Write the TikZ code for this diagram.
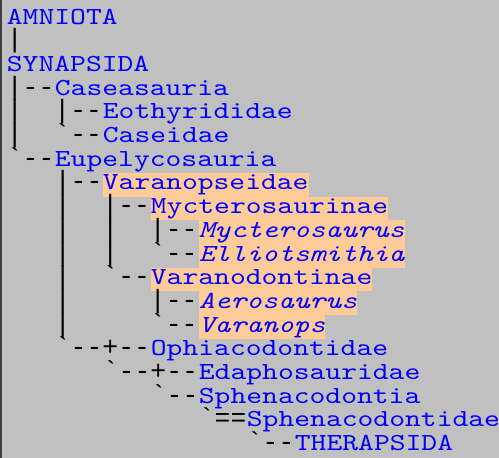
\documentclass[tikz,border=0pt]{standalone}
\usepackage{fontspec}
\setmonofont{Liberation Mono}
\newfontfamily\namefont{lmmono10-regular.otf}[ItalicFont=lmmono10-italic.otf, FakeStretch=1.23]
\definecolor{bggray}{RGB}{192,192,192}
\definecolor{edgegray}{RGB}{64,64,64}
\definecolor{taxblue}{RGB}{0,0,255}
\definecolor{hlorange}{RGB}{255,204,153}
\tikzset{
  linebox/.style={text height=17pt, text depth=6.7pt},
  pre/.style={linebox, font=\ttfamily\fontsize{26.4}{23.7}\selectfont, anchor=base west, inner sep=0pt, text=black},
  taxon/.style={linebox, font=\namefont\fontsize{24.5}{23.7}\selectfont, anchor=base west, inner sep=0pt, text=taxblue},
  hl/.style={taxon, fill=hlorange},
}
\begin{document}
\begin{tikzpicture}[x=1pt,y=-1pt]
\path[use as bounding box] (0,0) rectangle (499,458);
\fill[bggray] (0,0) rectangle (499,458);
\fill[edgegray] (0,0) rectangle (2,458);
% line 0-2
\node[taxon] (amniota) at ({6.7+16*0},{24+23.7*0}) {AMNIOTA};
\node[pre] (p1) at ({6.7+16*0},{24+23.7*1}) {|};
\node[taxon] (synapsida) at ({6.7+16*0},{24+23.7*2}) {SYNAPSIDA};
% Caseasauria
\node[pre] (p3) at ({6.7+16*0},{24+23.7*3}) {|--};
\node[taxon] (caseasauria) at ({6.7+16*3},{24+23.7*3}) {Caseasauria};
\node[pre] (p4) at ({6.7+16*0},{24+23.7*4}) {|~~|--};
\node[taxon] (eothyrididae) at ({6.7+16*6},{24+23.7*4}) {Eothyrididae};
\node[pre] (p5) at ({6.7+16*0},{24+23.7*5}) {|~~`--};
\node[taxon] (caseidae) at ({6.7+16*6},{24+23.7*5}) {Caseidae};
% Eupelycosauria
\node[pre] (p6) at ({6.7+16*0},{24+23.7*6}) {`--};
\node[taxon] (eupelycosauria) at ({6.7+16*3},{24+23.7*6}) {Eupelycosauria};
\node[pre] (p7) at ({6.7+16*3},{24+23.7*7}) {|--};
\node[hl] (varanopseidae) at ({6.7+16*6},{24+23.7*7}) {Varanopseidae};
\node[pre] (p8) at ({6.7+16*3},{24+23.7*8}) {|~~|--};
\node[hl] (mycterosaurinae) at ({6.7+16*9},{24+23.7*8}) {Mycterosaurinae};
\node[pre] (p9) at ({6.7+16*3},{24+23.7*9}) {|~~|~~|--};
\node[hl] (mycterosaurus) at ({6.7+16*12},{24+23.7*9}) {\itshape Mycterosaurus\/};
\node[pre] (p10) at ({6.7+16*3},{24+23.7*10}) {|~~|~~`--};
\node[hl] (elliotsmithia) at ({6.7+16*12},{24+23.7*10}) {\itshape Elliotsmithia\/};
\node[pre] (p11) at ({6.7+16*3},{24+23.7*11}) {|~~`--};
\node[hl] (varanodontinae) at ({6.7+16*9},{24+23.7*11}) {Varanodontinae};
\node[pre] (p12) at ({6.7+16*3},{24+23.7*12}) {|~~~~~|--};
\node[hl] (aerosaurus) at ({6.7+16*12},{24+23.7*12}) {\itshape Aerosaurus\/};
\node[pre] (p13) at ({6.7+16*3},{24+23.7*13}) {|~~~~~`--};
\node[hl] (varanops) at ({6.7+16*12},{24+23.7*13}) {\itshape Varanops\/};
% lower part
\node[pre] (p14) at ({6.7+16*3},{24+23.7*14}) {`--+--};
\node[taxon] (ophiacodontidae) at ({6.7+16*9},{24+23.7*14}) {Ophiacodontidae};
\node[pre] (p15) at ({6.7+16*6},{24+23.7*15}) {`--+--};
\node[taxon] (edaphosauridae) at ({6.7+16*12},{24+23.7*15}) {Edaphosauridae};
\node[pre] (p16) at ({6.7+16*9},{24+23.7*16}) {`--};
\node[taxon] (sphenacodontia) at ({6.7+16*12},{24+23.7*16}) {Sphenacodontia};
\node[pre] (p17) at ({6.7+16*12},{24+23.7*17}) {`==};
\node[taxon] (sphenacodontidae) at ({6.7+16*15},{24+23.7*17}) {Sphenacodontidae};
\node[pre] (p18) at ({6.7+16*15},{24+23.7*18}) {`--};
\node[taxon] (therapsida) at ({6.7+16*18},{24+23.7*18}) {THERAPSIDA};
\end{tikzpicture}
\end{document}
